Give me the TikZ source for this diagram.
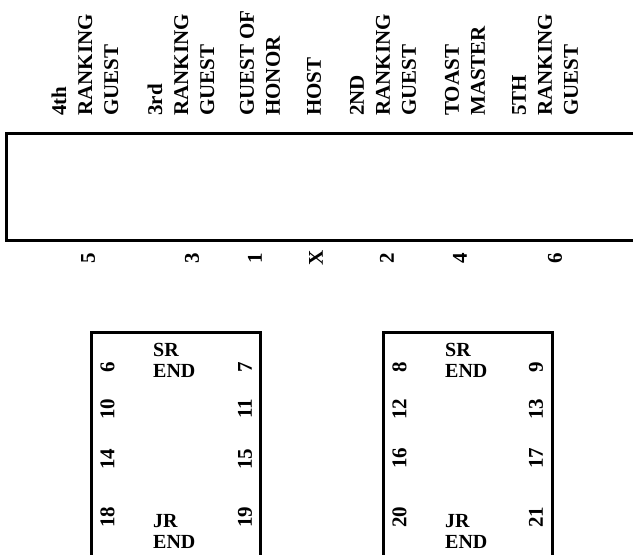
\documentclass[tikz,border=0pt]{standalone}
\usepackage{fontspec}
\setmainfont{Liberation Serif}
\usetikzlibrary{positioning}

\begin{document}
\begin{tikzpicture}[
    x=1pt,y=-1pt,
    tablerim/.style={draw=black,line width=3pt},
    guest/.style={rotate=90,anchor=west,align=left,inner sep=0pt,font=\bfseries\fontsize{21}{26}\selectfont},
    seatno/.style={rotate=90,inner sep=0pt,font=\bfseries\fontsize{21}{21}\selectfont},
    tableend/.style={anchor=north west,align=left,inner sep=0pt,font=\bfseries\fontsize{20}{21.5}\selectfont}
  ]
    \useasboundingbox (0,0) rectangle (633,555);
    \clip (0,0) rectangle (633,555);
    \draw[tablerim] (6,133) rectangle (650,240);
    \draw[tablerim] (91,332) rectangle (260,570);
    \draw[tablerim] (383,332) rectangle (552,570);
    \node[guest] (rank4) at (85,116) {4th\\RANKING\\GUEST};
    \node[guest] (rank3) at (181,116) {3rd\\RANKING\\GUEST};
    \node[guest] (honor) at (260,116) {GUEST OF\\HONOR};
    \node[guest] (host) at (314,116) {HOST};
    \node[guest] (rank2) at (383,116) {2ND\\RANKING\\GUEST};
    \node[guest] (toast) at (465,116) {TOAST\\MASTER};
    \node[guest] (rank5) at (545,116) {5TH\\RANKING\\GUEST};
    \node[seatno] (p5) at (88,258) {5};
    \node[seatno] (p3) at (192,258) {3};
    \node[seatno] (p1) at (255,258) {1};
    \node[seatno] (px) at (316,258) {X};
    \node[seatno] (p2) at (387,258) {2};
    \node[seatno] (p4) at (460,258) {4};
    \node[seatno] (p6) at (555,258) {6};
    \node[tableend] (srA) at (153,343) {SR\\END};
    \node[tableend] (jrA) at (153,514) {JR\\END};
    \node[tableend] (srB) at (445,343) {SR\\END};
    \node[tableend] (jrB) at (445,514) {JR\\END};
    \node[seatno] (s6) at (107.5,367) {6};
    \node[seatno] (s10) at (107.5,409) {10};
    \node[seatno] (s14) at (107.5,459) {14};
    \node[seatno] (s18) at (107.5,517) {18};
    \node[seatno] (s7) at (245,367) {7};
    \node[seatno] (s11) at (245,409) {11};
    \node[seatno] (s15) at (245,459) {15};
    \node[seatno] (s19) at (245,517) {19};
    \node[seatno] (s8) at (399.5,367) {8};
    \node[seatno] (s12) at (399.5,409) {12};
    \node[seatno] (s16) at (399.5,458) {16};
    \node[seatno] (s20) at (399.5,517) {20};
    \node[seatno] (s9) at (536,367) {9};
    \node[seatno] (s13) at (536,409) {13};
    \node[seatno] (s17) at (536,458) {17};
    \node[seatno] (s21) at (536,517) {21};
  \end{tikzpicture}
\end{document}
